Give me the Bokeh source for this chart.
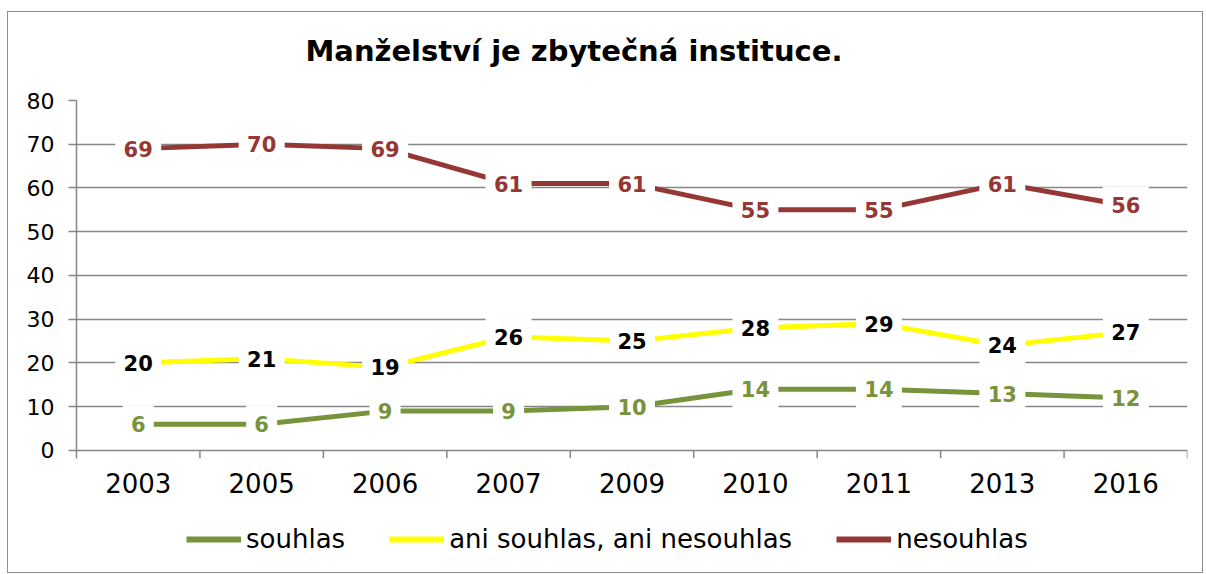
from bokeh.plotting import figure
from bokeh.layouts import column
from bokeh.models import (Range1d, FixedTicker, Legend, LegendItem, ColumnDataSource)
from bokeh.core.properties import value
from bokeh.embed import file_html
from bokeh.resources import INLINE

title_text = "Manželství je zbytečná instituce."
years = ["2003", "2005", "2006", "2007", "2009", "2010", "2011", "2013", "2016"]
souhlas = [6, 6, 9, 9, 10, 14, 14, 13, 12]
ani = [20, 21, 19, 26, 25, 28, 29, 24, 27]
nesouhlas = [69, 70, 69, 61, 61, 55, 55, 61, 56]
series_names = ["souhlas", "ani souhlas, ani nesouhlas", "nesouhlas"]
y_ticks = [0, 10, 20, 30, 40, 50, 60, 70, 80]

GREEN = "#77933C"
YELLOW = "#FFFF00"
RED = "#953735"
GRID = "#878787"
colors = [GREEN, YELLOW, RED]
series = [souhlas, ani, nesouhlas]

xs = [i + 0.5 for i in range(len(years))]
W = 1194


def strip(h, xr, yr):
    f = figure(width=W, height=h, output_backend="svg", toolbar_location=None,
               x_range=Range1d(*xr), y_range=Range1d(*yr),
               x_axis_location=None, y_axis_location=None,
               min_border=0, min_border_left=0, min_border_right=0,
               min_border_top=0, min_border_bottom=0)
    f.grid.visible = False
    f.outline_line_color = None
    f.border_fill_color = "white"
    f.background_fill_color = "white"
    return f


# title strip (its frame is aligned with the main plot's frame)
p0 = strip(74, (0, 1111), (0, 74))
p0.text(x=[229], y=[36], text=[title_text], text_align="left", text_baseline="alphabetic",
        text_font=value("DejaVu Sans"), text_font_style="bold", text_font_size="29px",
        text_color="black")

# main plot
p = figure(width=W, height=424, output_backend="svg", toolbar_location=None,
           x_range=Range1d(0, len(years)), y_range=Range1d(-1.83, 80),
           min_border_left=68, min_border_right=15, min_border_top=14, min_border_bottom=52)
p.outline_line_color = None
p.background_fill_color = "white"
p.border_fill_color = "white"

p.xaxis.ticker = FixedTicker(ticks=xs)
p.xaxis.major_label_overrides = {x: y for x, y in zip(xs, years)}
p.xaxis.axis_line_color = None
p.xaxis.major_tick_line_color = None
p.xaxis.major_tick_out = 0
p.xaxis.major_tick_in = 0
p.xaxis.minor_tick_line_color = None
p.xaxis.major_label_text_font = "DejaVu Sans"
p.xaxis.major_label_text_font_size = "26px"
p.xaxis.major_label_text_color = "black"
p.xaxis.major_label_standoff = 14

p.yaxis.ticker = FixedTicker(ticks=y_ticks)
p.yaxis.axis_line_color = GRID
p.yaxis.axis_line_width = 1.5
p.yaxis.major_tick_line_color = GRID
p.yaxis.major_tick_line_width = 1.5
p.yaxis.major_tick_out = 8
p.yaxis.major_tick_in = 0
p.yaxis.minor_tick_line_color = None
p.yaxis.major_label_text_font = "DejaVu Sans"
p.yaxis.major_label_text_font_size = "22px"
p.yaxis.major_label_text_color = "black"
p.yaxis.major_label_standoff = 14

p.xgrid.grid_line_color = None
p.ygrid.ticker = FixedTicker(ticks=y_ticks)
p.ygrid.grid_line_color = GRID
p.ygrid.grid_line_width = 1.5

# category tick marks between categories
p.segment(x0=list(range(1, len(years) + 1)), y0=[0] * len(years),
          x1=list(range(1, len(years) + 1)), y1=[-1.83] * len(years),
          line_color=GRID, line_width=1.5)

for vals, c in zip(series, colors):
    p.line(xs, vals, line_color=c, line_width=5)

for vals, col in [(souhlas, GREEN), (ani, "black"), (nesouhlas, RED)]:
    labels = [str(v) for v in vals]
    widths = [15 * len(s) + 16 for s in labels]
    src = ColumnDataSource(dict(x=xs, y=vals, t=labels, w=widths))
    p.rect(x="x", y="y", width="w", height=38, width_units="screen", height_units="screen",
           source=src, fill_color="white", line_color=None)
    p.text(x="x", y="y", text="t", source=src, text_align="center", text_baseline="middle",
           text_font=value("DejaVu Sans"), text_font_style="bold", text_font_size="21px",
           text_color=col)

# legend strip (series drawn out of view, only used as legend proxies)
p2 = strip(62, (0, 1), (-1, 0))
rs = [p2.line(xs, vals, line_color=c, line_width=6) for vals, c in zip(series, colors)]

legend = Legend(items=[LegendItem(label=n, renderers=[r]) for n, r in zip(series_names, rs)],
                orientation="horizontal", location=(110, 18), margin=0, padding=0,
                spacing=44, label_standoff=5, glyph_width=55, glyph_height=20,
                label_height=20, border_line_color=None, background_fill_alpha=0,
                label_text_font="DejaVu Sans", label_text_font_size="26px",
                label_text_color="black")
p2.add_layout(legend, "center")

layout = column(p0, p, p2, spacing=0)
layout.styles = {"border": "1px solid #8c8c8c", "margin-left": "7px", "margin-top": "11px"}

open("out.html", "w").write(file_html(layout, INLINE))
